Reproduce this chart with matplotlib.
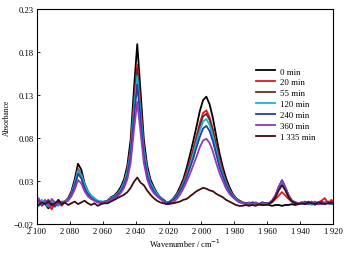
import numpy as np
import matplotlib
matplotlib.use('Agg')
import matplotlib.pyplot as plt

plt.rcParams['font.family'] = ['Liberation Serif', 'DejaVu Serif']
plt.rcParams['axes.unicode_minus'] = True

# wavenumber grid (cm-1), 2101 down to 1919 in steps of 2
wn = np.arange(2101, 1918, -2)

labels = ['0 min', '20 min', '55 min', '120 min', '240 min', '360 min', '1\u2009335 min']
colors = ['#000000', '#e8141c', '#5c3030', '#17b6d0', '#2c3c9c', '#8c3cbe', '#3f0d0d']

a0 = [0.004, 0.001, 0.007, 0.003, -0.002, 0.005, 0.002, 0.008, 0.004,
      0.006, 0.010, 0.018, 0.032, 0.050, 0.043, 0.027, 0.018, 0.012, 0.009, 0.005, 0.006,
      0.005, 0.007, 0.011, 0.013, 0.017, 0.023, 0.032, 0.048, 0.078, 0.137, 0.189, 0.134,
      0.078, 0.048, 0.032, 0.023, 0.016, 0.011, 0.008, 0.005,
      0.006, 0.010, 0.015, 0.023, 0.032, 0.045, 0.060, 0.076, 0.093, 0.111, 0.124, 0.128,
      0.119, 0.103, 0.082, 0.062, 0.046, 0.033, 0.023, 0.015, 0.010, 0.007, 0.005, 0.004,
      0.003, 0.002, 0.004, 0.003, 0.002, 0.003, 0.002, 0.001, 0.002, 0.002, 0.001, 0.002,
      0.002, 0.003, 0.002, 0.003, 0.004, 0.003, 0.005, 0.004, 0.003, 0.004, 0.003, 0.005,
      0.004, 0.003, 0.004]

a20 = [0.002, 0.007, 0.001, 0.005, 0.003, -0.003, 0.004, 0.006, 0.001,
       0.005, 0.009, 0.016, 0.028, 0.044, 0.038, 0.024, 0.016, 0.011, 0.008, 0.006, 0.004,
       0.006, 0.007, 0.010, 0.012, 0.015, 0.020, 0.028, 0.043, 0.068, 0.120, 0.165, 0.117,
       0.068, 0.043, 0.028, 0.020, 0.014, 0.010, 0.007, 0.003,
       0.005, 0.009, 0.014, 0.020, 0.029, 0.040, 0.053, 0.067, 0.082, 0.097, 0.109, 0.112,
       0.104, 0.090, 0.072, 0.055, 0.041, 0.029, 0.020, 0.014, 0.009, 0.007, 0.005, 0.004,
       0.005, 0.003, 0.004, 0.002, 0.004, 0.003, 0.004, 0.005, 0.009, 0.013, 0.017, 0.013,
       0.009, 0.006, 0.004, 0.003, 0.005, 0.003, 0.004, 0.006, 0.002, 0.005, 0.007, 0.010,
       0.004, 0.008, 0.003]

a55 = [0.003, 0.007, 0.002, 0.004, 0.006, 0.001, 0.005, 0.003, 0.004,
       0.006, 0.008, 0.015, 0.026, 0.041, 0.035, 0.022, 0.015, 0.010, 0.008, 0.006, 0.005,
       0.006, 0.007, 0.010, 0.012, 0.015, 0.020, 0.028, 0.042, 0.067, 0.117, 0.161, 0.114,
       0.067, 0.042, 0.028, 0.020, 0.014, 0.010, 0.007, 0.005,
       0.006, 0.009, 0.013, 0.020, 0.028, 0.038, 0.051, 0.064, 0.079, 0.093, 0.105, 0.108,
       0.101, 0.087, 0.070, 0.053, 0.039, 0.028, 0.020, 0.013, 0.009, 0.007, 0.005, 0.004,
       0.003, 0.005, 0.004, 0.003, 0.005, 0.004, 0.004, 0.007, 0.013, 0.023, 0.030, 0.022,
       0.013, 0.007, 0.005, 0.004, 0.005, 0.004, 0.006, 0.003, 0.005, 0.004, 0.006, 0.004,
       0.005, 0.003, 0.004]

a120 = [0.005, 0.001, 0.008, 0.003, 0.000, 0.006, 0.004, 0.001, 0.005,
        0.006, 0.009, 0.015, 0.027, 0.042, 0.037, 0.026, 0.018, 0.013, 0.010, 0.007, 0.006,
        0.006, 0.007, 0.010, 0.012, 0.015, 0.020, 0.028, 0.041, 0.063, 0.111, 0.152, 0.108,
        0.065, 0.042, 0.028, 0.021, 0.015, 0.011, 0.007, 0.005,
        0.006, 0.009, 0.013, 0.019, 0.027, 0.036, 0.048, 0.061, 0.075, 0.088, 0.099, 0.102,
        0.095, 0.082, 0.066, 0.050, 0.037, 0.027, 0.019, 0.013, 0.009, 0.006, 0.005, 0.003,
        0.004, 0.002, 0.005, 0.003, 0.004, 0.002, 0.003, 0.006, 0.012, 0.021, 0.027, 0.020,
        0.012, 0.007, 0.005, 0.004, 0.003, 0.005, 0.004, 0.002, 0.004, 0.005, 0.003, 0.004,
        0.006, 0.003, 0.004]

a240 = [0.004, 0.007, 0.002, 0.005, 0.008, 0.003, 0.000, 0.005, 0.004,
        0.005, 0.008, 0.014, 0.024, 0.038, 0.033, 0.021, 0.014, 0.010, 0.007, 0.006, 0.005,
        0.005, 0.007, 0.009, 0.011, 0.014, 0.018, 0.025, 0.037, 0.059, 0.103, 0.142, 0.101,
        0.059, 0.037, 0.025, 0.018, 0.013, 0.010, 0.007, 0.004,
        0.006, 0.008, 0.012, 0.018, 0.025, 0.034, 0.045, 0.056, 0.069, 0.081, 0.091, 0.094,
        0.088, 0.076, 0.061, 0.046, 0.035, 0.025, 0.018, 0.012, 0.008, 0.006, 0.004, 0.004,
        0.003, 0.005, 0.004, 0.003, 0.005, 0.004, 0.004, 0.007, 0.013, 0.023, 0.031, 0.023,
        0.013, 0.007, 0.005, 0.004, 0.004, 0.006, 0.003, 0.005, 0.004, 0.003, 0.005, 0.004,
        0.006, 0.004, 0.003]

a360 = [0.006, 0.010, 0.003, 0.008, 0.001, 0.009, 0.005, 0.002, 0.006,
        0.006, 0.007, 0.012, 0.020, 0.031, 0.027, 0.018, 0.012, 0.009, 0.007, 0.005, 0.004,
        0.005, 0.006, 0.008, 0.010, 0.012, 0.016, 0.022, 0.032, 0.051, 0.089, 0.122, 0.087,
        0.051, 0.032, 0.022, 0.016, 0.012, 0.009, 0.006, 0.003,
        0.003, 0.005, 0.009, 0.014, 0.021, 0.029, 0.038, 0.048, 0.058, 0.069, 0.077, 0.079,
        0.074, 0.064, 0.051, 0.039, 0.030, 0.021, 0.015, 0.011, 0.008, 0.005, 0.004, 0.003,
        0.004, 0.003, 0.005, 0.003, 0.004, 0.003, 0.004, 0.007, 0.013, 0.023, 0.030, 0.022,
        0.013, 0.007, 0.005, 0.004, 0.005, 0.003, 0.005, 0.004, 0.006, 0.004, 0.003, 0.005,
        0.004, 0.006, 0.004]

a1335 = [0.004, 0.002, 0.005, 0.003, 0.006, 0.002, 0.004, 0.007, 0.003,
         0.005, 0.002, 0.004, 0.006, 0.003, 0.005, 0.007, 0.004, 0.002, 0.004, 0.001, 0.003,
         0.004, 0.004, 0.006, 0.008, 0.010, 0.012, 0.014, 0.017, 0.022, 0.029, 0.034, 0.028,
         0.025, 0.019, 0.014, 0.010, 0.007, 0.005, 0.004, 0.003,
         0.004, 0.004, 0.005, 0.006, 0.008, 0.009, 0.012, 0.015, 0.018, 0.020, 0.022, 0.021,
         0.019, 0.018, 0.015, 0.013, 0.011, 0.008, 0.006, 0.004, 0.002, 0.001, 0.001, 0.002,
         0.001, 0.002, 0.001, 0.003, 0.002, 0.002, 0.003, 0.006, 0.011, 0.019, 0.025, 0.019,
         0.011, 0.006, 0.004, 0.003, 0.004, 0.003, 0.005, 0.004, 0.003, 0.005, 0.004, 0.003,
         0.004, 0.005, 0.003]

spectra = [a0, a20, a55, a120, a240, a360, a1335]

xticks = [2100, 2080, 2060, 2040, 2020, 2000, 1980, 1960, 1940, 1920]
xticklabels = ['2\u2009100', '2\u2009080', '2\u2009060', '2\u2009040', '2\u2009020',
               '2\u2009000', '1\u2009980', '1\u2009960', '1\u2009940', '1\u2009920']
yticks = [-0.02, 0.03, 0.08, 0.13, 0.18, 0.23]

fig = plt.figure(figsize=(3.48, 2.55), dpi=100)
ax = fig.add_axes([0.106, 0.118, 0.851, 0.843])

for y, c, lab in zip(spectra, colors, labels):
    ax.plot(wn, y, color=c, lw=1.3, label=lab)

ax.set_xlim(2100, 1920)
ax.set_ylim(-0.02, 0.23)
ax.set_xticks(xticks)
ax.set_xticklabels(xticklabels)
ax.set_yticks(yticks)
ax.set_yticklabels(['\u22120.02', '0.03', '0.08', '0.13', '0.18', '0.23'])
ax.tick_params(direction='in', labelsize=6.2, length=2.5, width=0.6, pad=2)
for s in ax.spines.values():
    s.set_linewidth(0.8)

ax.set_xlabel('Wavenumber / cm$^{-1}$', fontsize=6, labelpad=1.5)
ax.set_ylabel('Absorbance', fontsize=5.5, labelpad=2)

ax.legend(loc='upper left', bbox_to_anchor=(0.74, 0.728), frameon=False, fontsize=6.3,
          handlelength=2.2, handletextpad=0.5, labelspacing=0.32,
          borderpad=0, borderaxespad=0)

plt.savefig('out.png', dpi=100)
